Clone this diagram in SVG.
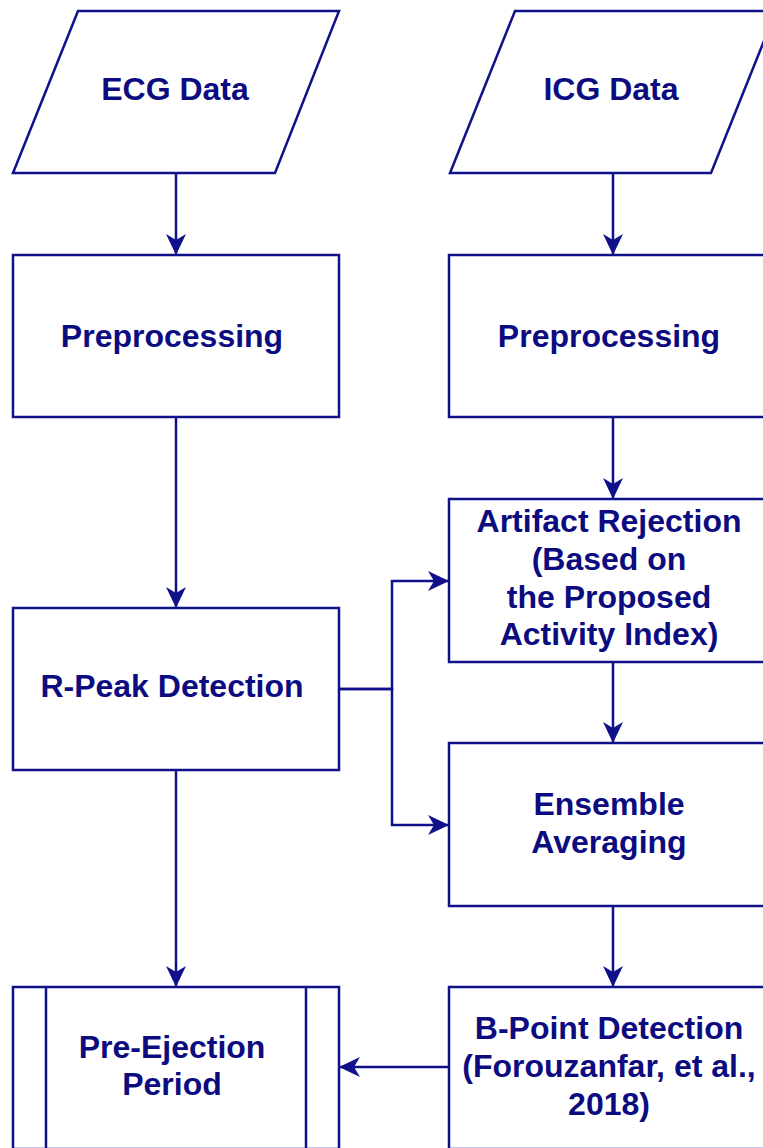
<svg xmlns="http://www.w3.org/2000/svg" width="763" height="1148" viewBox="0 0 763 1148">
<defs>
<style>
.shape{fill:#ffffff;stroke:#10108a;stroke-width:2.5}
.conn{fill:none;stroke:#10108a;stroke-width:2.5}
.lbl{font-family:"Liberation Sans",Arial,sans-serif;font-weight:bold;font-size:32px;fill:#0c0c80;text-anchor:middle}
</style>
<marker id="arr" markerUnits="userSpaceOnUse" markerWidth="22" markerHeight="22" viewBox="0 0 22 22" refX="21" refY="11" orient="auto">
<path d="M0,1 L21,11 L0,21 L6,11 Z" fill="#10108a"/>
</marker>
</defs>
<rect width="763" height="1148" fill="#ffffff"/>
<g id="connectors">
<path class="conn" d="M176,173 V255" marker-end="url(#arr)"/>
<path class="conn" d="M613,173 V255" marker-end="url(#arr)"/>
<path class="conn" d="M176,417 V608" marker-end="url(#arr)"/>
<path class="conn" d="M613,417 V499" marker-end="url(#arr)"/>
<path class="conn" d="M339,689 H392 V581 H449" marker-end="url(#arr)"/>
<path class="conn" d="M339,689 H392 V825 H449" marker-end="url(#arr)"/>
<path class="conn" d="M613,662 V743" marker-end="url(#arr)"/>
<path class="conn" d="M176,770 V987" marker-end="url(#arr)"/>
<path class="conn" d="M613,906 V987" marker-end="url(#arr)"/>
<path class="conn" d="M449,1067 H339" marker-end="url(#arr)"/>
</g>
<g id="ecg-data">
<polygon class="shape" points="78,11 339,11 275,173 13,173"/>
<text class="lbl" x="175" y="100">ECG Data</text>
</g>
<g id="icg-data">
<polygon class="shape" points="515,11 776,11 711,173 450,173"/>
<text class="lbl" x="611" y="100">ICG Data</text>
</g>
<g id="ecg-preprocessing">
<rect class="shape" x="13" y="255" width="326" height="162"/>
<text class="lbl" x="172" y="347">Preprocessing</text>
</g>
<g id="icg-preprocessing">
<rect class="shape" x="449" y="255" width="326" height="162"/>
<text class="lbl" x="609" y="347">Preprocessing</text>
</g>
<g id="artifact-rejection">
<rect class="shape" x="449" y="499" width="326" height="163"/>
<text class="lbl" x="609" y="532">Artifact Rejection</text>
<text class="lbl" x="609" y="570">(Based on</text>
<text class="lbl" x="609" y="608">the Proposed</text>
<text class="lbl" x="609" y="645">Activity Index)</text>
</g>
<g id="r-peak-detection">
<rect class="shape" x="13" y="608" width="326" height="162"/>
<text class="lbl" x="172" y="697">R-Peak Detection</text>
</g>
<g id="ensemble-averaging">
<rect class="shape" x="449" y="743" width="326" height="163"/>
<text class="lbl" x="609" y="815">Ensemble</text>
<text class="lbl" x="609" y="853">Averaging</text>
</g>
<g id="pre-ejection-period">
<rect class="shape" x="13" y="987" width="326" height="162"/>
<line class="conn" x1="46" y1="987" x2="46" y2="1149"/>
<line class="conn" x1="306" y1="987" x2="306" y2="1149"/>
<text class="lbl" x="172" y="1058">Pre-Ejection</text>
<text class="lbl" x="172" y="1095">Period</text>
</g>
<g id="b-point-detection">
<rect class="shape" x="449" y="987" width="326" height="162"/>
<text class="lbl" x="609" y="1039">B-Point Detection</text>
<text class="lbl" x="609" y="1077">(Forouzanfar, et al.,</text>
<text class="lbl" x="609" y="1115">2018)</text>
</g>
</svg>
